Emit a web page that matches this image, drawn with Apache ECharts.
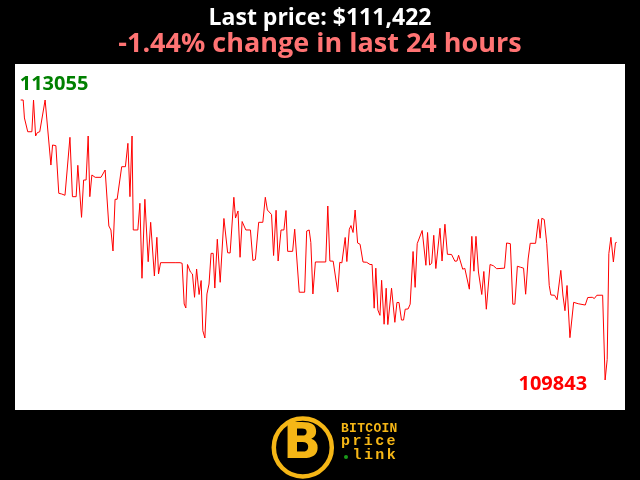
<!DOCTYPE html>
<html><head><meta charset="utf-8">
<script src="https://cdn.jsdelivr.net/npm/echarts@6/dist/echarts.min.js"></script>
<style>html,body{margin:0;padding:0;background:#000;}#c{width:640px;height:480px;}</style>
</head><body><div id="c"></div>
<script>
// minutes since start of the 24h window
const minutes = [0,6,9,17,27,31,36,40,46,59,63,73,77,85,92,99,107,119,125,134,138,147,152,158,163,167,172,180,194,204,213,218,223,228,233,244,253,259,264,269,272,283,288,293,300,308,314,323,329,333,338,373,377,385,390,395,399,403,410,415,420,425,431,436,440,445,450,455,460,465,469,475,482,491,500,506,515,519,525,530,535,544,555,561,567,575,585,591,596,606,611,617,622,629,636,641,645,657,662,673,686,691,697,701,706,712,737,742,747,755,766,771,776,784,788,794,798,803,808,814,820,827,836,844,849,854,858,863,868,872,878,883,887,896,904,909,914,920,925,929,936,941,945,948,953,958,970,973,979,983,988,993,998,1003,1007,1013,1018,1025,1031,1041,1049,1054,1058,1062,1068,1073,1077,1084,1090,1095,1100,1106,1114,1119,1125,1129,1134,1142,1150,1169,1174,1183,1189,1194,1200,1208,1215,1220,1226,1231,1244,1251,1255,1259,1265,1271,1277,1281,1290,1296,1300,1305,1310,1315,1320,1327,1331,1336,1347,1364,1370,1381,1386,1392,1406,1412,1417,1421,1426,1432,1437,1440];
const prices = [113055,113055,112849,112691,112691,113055,112642,112680,112691,113055,113055,112309,112539,112531,111985,111977,111962,112627,111946,111946,112306,111709,112137,112137,112642,111946,112195,112168,112168,112252,111610,111564,111323,111916,111916,112290,112290,112558,111946,112642,111564,111564,111870,111010,111916,111200,111652,111036,111480,111059,111189,111189,111182,111189,111182,110715,110669,111168,111082,111059,110792,111116,110824,110984,110409,110325,110830,110944,111296,111296,110898,111458,110964,111696,111303,111300,111939,111701,111782,111251,111661,111564,111564,111214,111225,111652,111652,111939,111793,111742,111271,111790,111208,111564,111564,111787,111319,111319,111573,110850,110850,111552,111564,111420,110830,111197,111197,111839,111208,111206,110852,111193,111187,111478,111202,111573,111615,111535,111793,111415,111400,111197,111193,111168,111168,110667,111126,110646,110585,110987,110483,110896,110479,110896,110505,110732,110732,110531,110531,110655,110658,110713,110713,111317,110906,111407,111558,111550,111159,111535,111162,111182,111503,111122,111126,111584,111208,111630,111285,111283,111206,111208,111274,111269,111114,111124,111128,110885,111491,111091,111491,111082,110824,111088,110655,110667,111168,111154,111120,111126,111415,111407,110713,110713,111148,111136,111126,110827,111231,111411,111411,111686,111470,111698,111684,111407,110927,110818,110815,110764,110761,111101,110818,110638,110927,110329,110336,110734,110718,110703,110789,110792,110778,110815,110816,109843,110078,111292,111480,111197,111418,111422];
const titleText = 'Last price: $111,422';
const subtitleText = '-1.44% change in last 24 hours';
const logoLines = ['BITCOIN', 'price', 'link'];

const chart = echarts.init(document.getElementById('c'), null, {renderer: 'canvas'});
const FONT = 'Open Sans';
const GOLD = '#f5b616';

const series = minutes.map((m, i) => [m, prices[i]]);

// logo text laid out with letter spacing
const logoGraphics = [];
const lineY = [429, 443, 457];
logoLines.forEach((s, li) => {
  const x0 = li === 2 ? 352.5 : 341;
  const step = li === 0 ? 8.1 : 11.4;
  const size = li === 0 ? 13 : 15;
  for (let k = 0; k < s.length; k++) {
    logoGraphics.push({
      type: 'text', left: x0 + k * step, top: lineY[li] - (li === 0 ? 7 : 9),
      style: {text: s[k], fill: GOLD, font: 'bold ' + size + 'px "Liberation Mono"'}
    });
  }
});

chart.setOption({
  animation: false,
  backgroundColor: '#000',
  title: [
    {text: titleText, left: 'center', top: 2,
     textStyle: {color: '#fff', fontSize: 23, fontWeight: 'bold', fontFamily: FONT}},
    {text: subtitleText, left: 'center', top: 26,
     textStyle: {color: '#ff7373', fontSize: 27, fontWeight: 'bold', fontFamily: FONT}}
  ],
  grid: {left: 20.7, top: 64, width: 596, height: 346},
  xAxis: {type: 'value', min: 0, max: 1440, show: false},
  yAxis: {type: 'value', min: 109499, max: 113468, show: false},
  graphic: [
    {type: 'rect', z: -10, shape: {x: 15, y: 64, width: 610, height: 346}, style: {fill: '#fff'}},
    {type: 'circle', shape: {cx: 302.8, cy: 447.5, r: 29}, style: {fill: '#000', stroke: GOLD, lineWidth: 4.5}},
    {type: 'text', left: 283, top: 420, style: {text: 'B', fill: GOLD, font: 'bold 50px "DejaVu Sans"'}},
    {type: 'circle', shape: {cx: 346, cy: 457, r: 2}, style: {fill: '#1a9a1a'}}
  ].concat(logoGraphics),
  series: [{
    type: 'line', data: series, showSymbol: false, symbol: 'none',
    lineStyle: {color: '#ff0000', width: 1},
    markPoint: {
      symbol: 'circle', symbolSize: 0,
      data: [
        {type: 'max', label: {show: true, position: 'inside', align: 'left', offset: [-1, -16],
          color: '#008000', fontSize: 20, fontWeight: 'bold', fontFamily: FONT}},
        {type: 'min', label: {show: true, position: 'inside', align: 'right', offset: [-18, 4],
          color: '#ff0000', fontSize: 20, fontWeight: 'bold', fontFamily: FONT}}
      ]
    }
  }]
});
</script></body></html>
